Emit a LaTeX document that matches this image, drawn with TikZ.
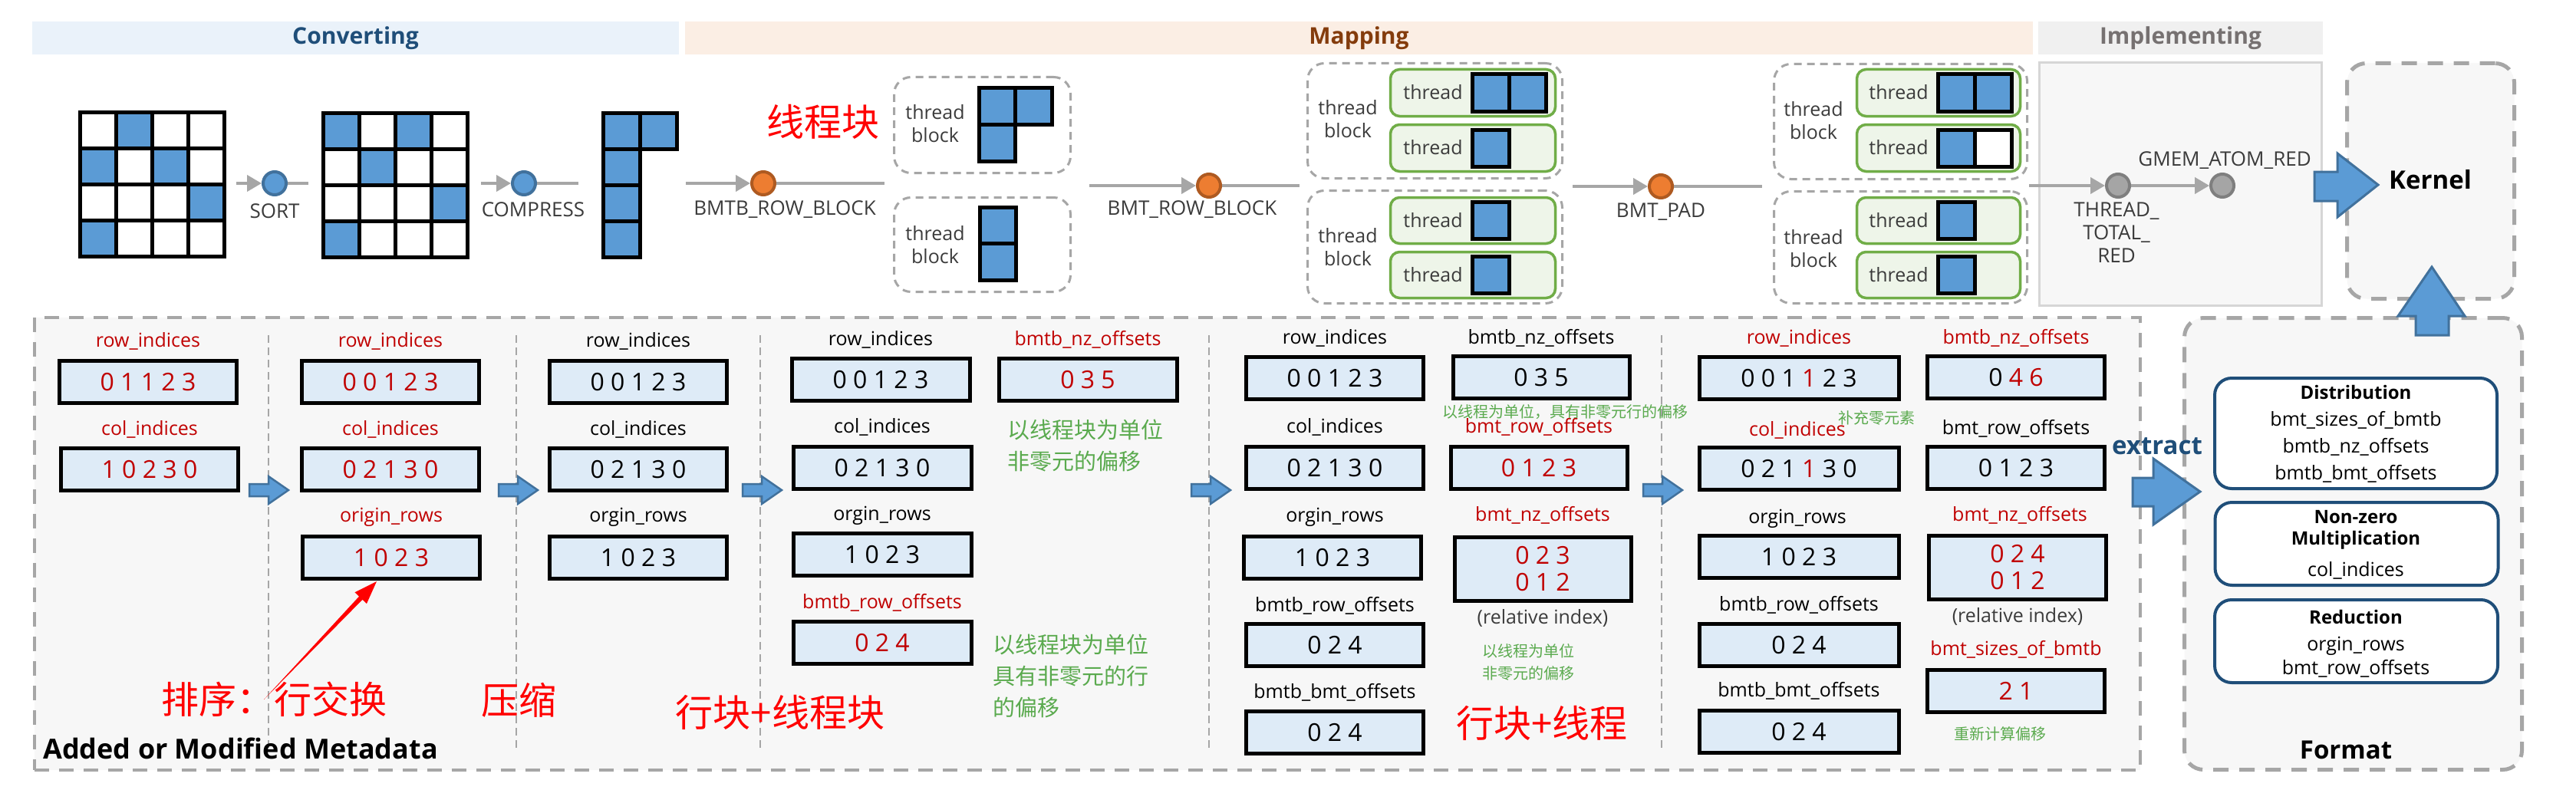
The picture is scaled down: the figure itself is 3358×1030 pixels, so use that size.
\documentclass[tikz,border=0pt]{standalone}
\usepackage{fontspec}
\setmainfont{Open Sans}
\newfontfamily\cjk{Noto Sans CJK SC}
\usetikzlibrary{arrows.meta}
\definecolor{cblue}{HTML}{5B9BD5}
\definecolor{cbluedk}{HTML}{41719C}
\definecolor{corange}{HTML}{ED7D31}
\definecolor{corangedk}{HTML}{AE5A21}
\definecolor{cgraydot}{HTML}{A5A5A5}
\definecolor{cgraydotdk}{HTML}{7F7F7F}
\definecolor{cline}{HTML}{A6A6A6}
\definecolor{cdash}{HTML}{A6A6A6}
\definecolor{boxfill}{HTML}{DEEBF7}
\definecolor{tgreen}{HTML}{70AD47}
\definecolor{tgreenfill}{HTML}{EEF5E9}
\definecolor{hblue}{HTML}{EAF2FA}
\definecolor{hpeach}{HTML}{FBEEE4}
\definecolor{hgray}{HTML}{F0F0F0}
\definecolor{navy}{HTML}{1F4E79}
\definecolor{cbrown}{HTML}{843C0C}
\definecolor{txtgray}{HTML}{767171}
\definecolor{dred}{HTML}{C00000}
\definecolor{ngreen}{HTML}{5AAA4E}
\definecolor{panel}{HTML}{F7F7F7}
\definecolor{labgray}{HTML}{3B3B3B}
\definecolor{implborder}{HTML}{D6D6D6}
\begin{document}
\begin{tikzpicture}[x=1pt,y=-1pt,
  gline/.style={draw=cline, line width=4},
  garrow/.style={gline, -{Triangle[length=19pt,width=21pt]}},
  bdot/.style={circle, fill=cblue, draw=cbluedk, line width=4, minimum size=30, inner sep=0},
  odot/.style={circle, fill=corange, draw=corangedk, line width=4, minimum size=30, inner sep=0},
  gdot/.style={circle, fill=cgraydot, draw=cgraydotdk, line width=4, minimum size=30, inner sep=0},
  tl/.style={inner sep=0, text=labgray, align=center, font={\fontsize{26}{30}\selectfont}},
  cell/.style={draw=black, line width=5},
  tbdash/.style={draw=cdash, line width=3, dash pattern=on 10pt off 7pt, rounded corners=22, inner sep=0},
  tbox/.style={draw=tgreen, fill=tgreenfill, line width=3.5, rounded corners=12, inner sep=0},
  thr/.style={inner sep=0, text=labgray, align=center, font={\fontsize{25}{30}\selectfont}},
  hdr/.style={inner sep=0, minimum height=43, font={\bfseries\fontsize{30}{36}\selectfont}},
  bigdash/.style={draw=cdash, line width=5, dash pattern=on 20pt off 14pt, rounded corners=25, inner sep=0},
  ml/.style={inner sep=0, font={\fontsize{25}{30}\selectfont}},
  mb/.style={draw=black, line width=5, fill=boxfill, inner sep=0, minimum height=55, align=center, font={\fontsize{32}{35}\selectfont}},
  divl/.style={draw=cdash, line width=2, dash pattern=on 10pt off 6pt},
  blk/.style={fill=cblue, draw=cbluedk, line width=3},
  gtxt/.style={inner sep=0, text=ngreen, align=left, font={\cjk\fontsize{29}{41}\selectfont}},
  gsm/.style={inner sep=0, text=ngreen, align=center, font={\cjk\fontsize{20}{29}\selectfont}},
  rtxt/.style={inner sep=0, text=red, font={\cjk\fontsize{49}{55}\selectfont}},
  fbox/.style={draw=navy, fill=white, line width=4, rounded corners=22, inner sep=0},
  fl/.style={inner sep=0, font={\fontsize{25}{30}\selectfont}},
  fh/.style={inner sep=0, font={\bfseries\fontsize{24}{30}\selectfont}},
  big/.style={inner sep=0, font={\bfseries\fontsize{33}{40}\selectfont}},
  barrow/.pic={\draw[blk, line width=2.5] (-25,-8) -- (0,-8) -- (0,-18) -- (26,0) -- (0,18) -- (0,8) -- (-25,8) -- cycle;}
]
\useasboundingbox (0,0) rectangle (3358,1030);
\fill[white] (0,0) rectangle (3358,1030);

% ---------- headers ----------
\node[hdr, fill=hblue, minimum width=843, text=navy] (hconv) at (463.5,49.5) {Converting};
\node[hdr, fill=hpeach, minimum width=1757, text=cbrown] (hmap) at (1771.5,49.5) {Mapping};
\node[hdr, fill=hgray, minimum width=371, text=txtgray] (himpl) at (2842.5,49.5) {Implementing};

% ---------- panels ----------
\node[draw=implborder, fill=panel, line width=3, minimum width=368, minimum height=317, inner sep=0] (impl) at (2842.5,240) {};
\node[bigdash, fill=panel, minimum width=218, minimum height=307] (kbox) at (3168.5,236) {};
\node[bigdash, fill=panel, minimum width=440, minimum height=589] (fmt) at (3067.5,709) {};
\node[draw=cdash, line width=4, dash pattern=on 19pt off 13pt, fill=panel, minimum width=2745, minimum height=590, inner sep=0] (meta) at (1417.5,709) {};

% ---------- converting grids ----------
\foreach \c/\r/\f in {0/0/white,1/0/cblue,2/0/white,3/0/white,0/1/cblue,1/1/white,2/1/cblue,3/1/white,0/2/white,1/2/white,2/2/white,3/2/cblue,0/3/cblue,1/3/white,2/3/white,3/3/white}
  \draw[cell, fill=\f] ({104+47*\c},{146+47*\r}) rectangle ++(47,47);
\foreach \c/\r/\f in {0/0/cblue,1/0/white,2/0/cblue,3/0/white,0/1/white,1/1/cblue,2/1/white,3/1/white,0/2/white,1/2/white,2/2/white,3/2/cblue,0/3/cblue,1/3/white,2/3/white,3/3/white}
  \draw[cell, fill=\f] ({421+47*\c},{147+47*\r}) rectangle ++(47,47);
\foreach \c/\r in {0/0,1/0,0/1,0/2,0/3}
  \draw[cell, fill=cblue] ({786+48*\c},{147+47*\r}) rectangle ++(48,47);

% ---------- top connectors ----------
\coordinate (p0) at (308,239);
\node[bdot] (dsort) at (358,239) {};
\coordinate (p1) at (402,239);
\draw[garrow] (p0) -- (dsort);
\draw[gline] (dsort) -- (p1);
\node[tl] (tsort) at (358,275) {SORT};

\coordinate (p2) at (627,239);
\node[bdot] (dcomp) at (683,239) {};
\coordinate (p3) at (754,239);
\draw[garrow] (p2) -- (dcomp);
\draw[gline] (dcomp) -- (p3);
\node[tl] (tcomp) at (695,273) {COMPRESS};

\coordinate (p4) at (894,239);
\node[odot] (dbmtb) at (995,239) {};
\coordinate (p5) at (1153,239);
\draw[garrow] (p4) -- (dbmtb);
\draw[gline] (dbmtb) -- (p5);
\node[tl] (tbmtb) at (1023,273) {BMTB\_ROW\_BLOCK};

\coordinate (p6) at (1420,242);
\node[odot] (dbmt) at (1576,242) {};
\coordinate (p7) at (1694,242);
\draw[garrow] (p6) -- (dbmt);
\draw[gline] (dbmt) -- (p7);
\node[tl] (tbmt) at (1554,273) {BMT\_ROW\_BLOCK};

\coordinate (p8) at (2050,243);
\node[odot] (dpad) at (2165,243) {};
\coordinate (p9) at (2297,243);
\draw[garrow] (p8) -- (dpad);
\draw[gline] (dpad) -- (p9);
\node[tl] (tpad) at (2165,276) {BMT\_PAD};

\coordinate (p10) at (2645,242);
\node[gdot] (dthr) at (2761,242) {};
\node[gdot] (dgmem) at (2897,242) {};
\draw[garrow] (p10) -- (dthr);
\draw[garrow] (dthr) -- (dgmem);
\node[tl] (tthr) at (2759,303) {THREAD\_\\TOTAL\_\\RED};
\node[tl] (tgmem) at (2900,209) {GMEM\_ATOM\_RED};

\node[rtxt] (rtb) at (1073,159) {线程块};

% ---------- mapping stage 1 ----------
\node[tbdash, minimum width=230, minimum height=125] (tbA) at (1280.5,163) {};
\node[tbdash, minimum width=230, minimum height=123] (tbB) at (1280.5,319) {};
\node[thr] (ltbA) at (1219,161) {thread\\block};
\node[thr] (ltbB) at (1219,319) {thread\\block};
\foreach \c/\r in {0/0,1/0,0/1}
  \draw[cell, fill=cblue] ({1276+47.5*\c},{115+47.5*\r}) rectangle ++(47.5,47.5);
\foreach \c/\r in {0/0,0/1}
  \draw[cell, fill=cblue] ({1277+47.5*\c},{270+47.5*\r}) rectangle ++(47.5,47.5);

% ---------- mapping stage 2 ----------
\node[tbdash, minimum width=332, minimum height=150] (tbC) at (1870.5,157.5) {};
\node[tbdash, minimum width=332, minimum height=147] (tbD) at (1870.5,322) {};
\node[thr] (ltbC) at (1757,155) {thread\\block};
\node[thr] (ltbD) at (1757,322) {thread\\block};
\node[tbox, minimum width=215, minimum height=61] (tC1) at (1920,121) {};
\node[tbox, minimum width=215, minimum height=61] (tC2) at (1920,193) {};
\node[tbox, minimum width=215, minimum height=60] (tC3) at (1920,287.5) {};
\node[tbox, minimum width=215, minimum height=60] (tC4) at (1920,358.5) {};
\node[thr] (ltC1) at (1868,120) {thread};
\node[thr] (ltC2) at (1868,192) {thread};
\node[thr] (ltC3) at (1868,287) {thread};
\node[thr] (ltC4) at (1868,358) {thread};
\draw[cell, fill=cblue] (1919,97) rectangle ++(48,48);
\draw[cell, fill=cblue] (1967,97) rectangle ++(48,48);
\draw[cell, fill=cblue] (1919,169) rectangle ++(48,48);
\draw[cell, fill=cblue] (1919,263) rectangle ++(48,48);
\draw[cell, fill=cblue] (1919,334) rectangle ++(48,48);

% ---------- mapping stage 3 ----------
\node[tbdash, minimum width=330, minimum height=150] (tbE) at (2477.5,158.5) {};
\node[tbdash, minimum width=330, minimum height=146] (tbF) at (2477.5,322.5) {};
\node[thr] (ltbE) at (2364,157) {thread\\block};
\node[thr] (ltbF) at (2364,324) {thread\\block};
\node[tbox, minimum width=213, minimum height=61] (tE1) at (2527,121) {};
\node[tbox, minimum width=213, minimum height=61] (tE2) at (2527,193) {};
\node[tbox, minimum width=213, minimum height=60] (tE3) at (2527,287.5) {};
\node[tbox, minimum width=213, minimum height=60] (tE4) at (2527,358.5) {};
\node[thr] (ltE1) at (2475,120) {thread};
\node[thr] (ltE2) at (2475,192) {thread};
\node[thr] (ltE3) at (2475,287) {thread};
\node[thr] (ltE4) at (2475,358) {thread};
\draw[cell, fill=cblue] (2526,97) rectangle ++(48,48);
\draw[cell, fill=cblue] (2574,97) rectangle ++(48,48);
\draw[cell, fill=cblue] (2526,169) rectangle ++(48,48);
\draw[cell, fill=white] (2574,169) rectangle ++(48,48);
\draw[cell, fill=cblue] (2526,263) rectangle ++(48,48);
\draw[cell, fill=cblue] (2526,334) rectangle ++(48,48);

% ---------- kernel ----------
\node[big] (tkernel) at (3168,234) {Kernel};
\draw[blk] (3017,224) -- (3047,224) -- (3047,200) -- (3100,241) -- (3047,283) -- (3047,262) -- (3017,262) -- cycle;

% ---------- metadata dividers ----------
\foreach \x in {350,673,991,1576,2166}
  \draw[divl] (\x,437) -- (\x,978);
\foreach \x in {350,675,993,1578,2167}
  \pic at (\x,639) {barrow};

% column 1
\node[ml, text=dred] (l1a) at (193,445) {row\_indices};
\node[mb, text=dred, minimum width=231] (b1a) at (193,498) {0 1 1 2 3};
\node[ml, text=dred] (l1b) at (195,560) {col\_indices};
\node[mb, text=dred, minimum width=231] (b1b) at (195,612) {1 0 2 3 0};

% column 2
\node[ml, text=dred] (l2a) at (509,445) {row\_indices};
\node[mb, text=dred, minimum width=231] (b2a) at (509,498) {0 0 1 2 3};
\node[ml, text=dred] (l2b) at (509,560) {col\_indices};
\node[mb, text=dred, minimum width=231] (b2b) at (509,612) {0 2 1 3 0};
\node[ml, text=dred] (l2c) at (510,674) {origin\_rows};
\node[mb, text=dred, minimum width=231] (b2c) at (510,727) {1 0 2 3};

% column 3
\node[ml] (l3a) at (832,445) {row\_indices};
\node[mb, minimum width=231] (b3a) at (832,498) {0 0 1 2 3};
\node[ml] (l3b) at (832,560) {col\_indices};
\node[mb, minimum width=231] (b3b) at (832,612) {0 2 1 3 0};
\node[ml] (l3c) at (832,674) {orgin\_rows};
\node[mb, minimum width=231] (b3c) at (832,727) {1 0 2 3};

% column 4
\node[ml] (l4a) at (1148,443) {row\_indices};
\node[mb, minimum width=232] (b4a) at (1148,495) {0 0 1 2 3};
\node[ml] (l4b) at (1150,557) {col\_indices};
\node[mb, minimum width=232] (b4b) at (1150,610) {0 2 1 3 0};
\node[ml] (l4c) at (1150,672) {orgin\_rows};
\node[mb, minimum width=232] (b4c) at (1150,723) {1 0 2 3};
\node[ml, text=dred] (l4d) at (1150,786) {bmtb\_row\_offsets};
\node[mb, text=dred, minimum width=232] (b4d) at (1150,838) {0 2 4};
\node[ml, text=dred] (l4e) at (1418,443) {bmtb\_nz\_offsets};
\node[mb, text=dred, minimum width=232] (b4e) at (1418,495) {0 3 5};
\node[gtxt, anchor=west] (g4a) at (1313,581) {以线程块为单位\\非零元的偏移};
\node[gtxt, anchor=west] (g4b) at (1294,881) {以线程块为单位\\具有非零元的行\\的偏移};

% column 5
\node[ml] (l5a) at (1740,441) {row\_indices};
\node[mb, minimum width=231] (b5a) at (1740,493) {0 0 1 2 3};
\node[ml] (l5b) at (1740,557) {col\_indices};
\node[mb, minimum width=231] (b5b) at (1740,610) {0 2 1 3 0};
\node[ml] (l5c) at (1740,674) {orgin\_rows};
\node[mb, minimum width=231] (b5c) at (1737,727) {1 0 2 3};
\node[ml] (l5d) at (1740,790) {bmtb\_row\_offsets};
\node[mb, minimum width=231] (b5d) at (1740,841) {0 2 4};
\node[ml] (l5e) at (1740,903) {bmtb\_bmt\_offsets};
\node[mb, minimum width=231] (b5e) at (1740,955) {0 2 4};
\node[ml] (l5f) at (2009,441) {bmtb\_nz\_offsets};
\node[mb, minimum width=230] (b5f) at (2009,492) {0 3 5};
\node[gsm] (g5a) at (2040,537) {以线程为单位，具有非零元行的偏移};
\node[ml, text=dred] (l5g) at (2006,557) {bmt\_row\_offsets};
\node[mb, text=dred, minimum width=230] (b5g) at (2006,610) {0 1 2 3};
\node[ml, text=dred] (l5h) at (2011,672) {bmt\_nz\_offsets};
\node[mb, text=dred, minimum width=230, minimum height=83] (b5h) at (2011,742) {0 2 3\\0 1 2};
\node[ml, text=labgray] (l5i) at (2011,806) {(relative index)};
\node[gsm] (g5b) at (1992,863) {以线程为单位\\非零元的偏移};
\node[rtxt] (r5) at (2010,943) {行块+线程};

% column 6
\node[ml, text=dred] (l6a) at (2345,441) {row\_indices};
\node[mb, minimum width=260] (b6a) at (2345,493) {0 0 1 \textcolor{dred}{1} 2 3};
\node[gsm] (g6a) at (2446,545) {补充零元素};
\node[ml, text=dred] (l6b) at (2343,561) {col\_indices};
\node[mb, minimum width=260] (b6b) at (2345,611) {0 2 1 \textcolor{dred}{1} 3 0};
\node[ml] (l6c) at (2343,676) {orgin\_rows};
\node[mb, minimum width=260] (b6c) at (2345,726) {1 0 2 3};
\node[ml] (l6d) at (2345,789) {bmtb\_row\_offsets};
\node[mb, minimum width=260] (b6d) at (2345,841) {0 2 4};
\node[ml] (l6e) at (2345,901) {bmtb\_bmt\_offsets};
\node[mb, minimum width=260] (b6e) at (2345,954) {0 2 4};
\node[ml, text=dred] (l6f) at (2628,441) {bmtb\_nz\_offsets};
\node[mb, minimum width=231] (b6f) at (2628,492) {0 \textcolor{dred}{4 6}};
\node[ml] (l6g) at (2628,559) {bmt\_row\_offsets};
\node[mb, minimum width=231] (b6g) at (2628,610) {0 1 2 3};
\node[ml, text=dred] (l6h) at (2633,672) {bmt\_nz\_offsets};
\node[mb, text=dred, minimum width=231, minimum height=83] (b6h) at (2630,740) {0 2 4\\0 1 2};
\node[ml, text=labgray] (l6i) at (2630,804) {(relative index)};
\node[ml, text=dred] (l6j) at (2628,847) {bmt\_sizes\_of\_bmtb};
\node[mb, text=dred, minimum width=231] (b6j) at (2628,901) {2 1};
\node[gsm] (g6b) at (2607,957) {重新计算偏移};

% red annotations
\node[rtxt] (r1) at (357,912) {排序：行交换};
\node[rtxt] (r2) at (676,913) {压缩};
\node[rtxt] (r3) at (1017,929) {行块+线程块};
\fill[red] (344,912) -- (472.5,781.8) -- (478,787) -- (491,758) -- (462.5,772.3) -- (468.1,777.6) -- cycle;

\node[inner sep=0, anchor=west, font={\bfseries\fontsize{36}{42}\selectfont}] (tmeta) at (56,976) {Added or Modified Metadata};

% ---------- extract / format ----------
\node[big, text=navy] (textract) at (2812,582) {extract};
\draw[blk] (2780,623) -- (2807,623) -- (2807,598) -- (2868,641) -- (2807,684) -- (2807,660) -- (2780,660) -- cycle;

\node[fbox, minimum width=368, minimum height=144] (fdist) at (3071,565) {};
\node[fbox, minimum width=369, minimum height=108] (fnz) at (3072,709) {};
\node[fbox, minimum width=369, minimum height=108] (fred) at (3071.5,836) {};
\node[fh] (fd1) at (3071,511) {Distribution};
\node[fl] (fd2) at (3071,548) {bmt\_sizes\_of\_bmtb};
\node[fl] (fd3) at (3071,583) {bmtb\_nz\_offsets};
\node[fl] (fd4) at (3071,618) {bmtb\_bmt\_offsets};
\node[fh] (fn1) at (3071,674) {Non-zero};
\node[fh] (fn2) at (3071,704) {Multiplication};
\node[fl] (fn3) at (3071,744) {col\_indices};
\node[fh] (fr1) at (3071,804) {Reduction};
\node[fl] (fr2) at (3071,842) {orgin\_rows};
\node[fl] (fr3) at (3071,872) {bmt\_row\_offsets};
\node[big] (tformat) at (3058,978) {Format};
\draw[blk] (3149,437) -- (3149,412) -- (3126,412) -- (3170,348) -- (3213,412) -- (3192,412) -- (3192,437) -- cycle;
\end{tikzpicture}
\end{document}
